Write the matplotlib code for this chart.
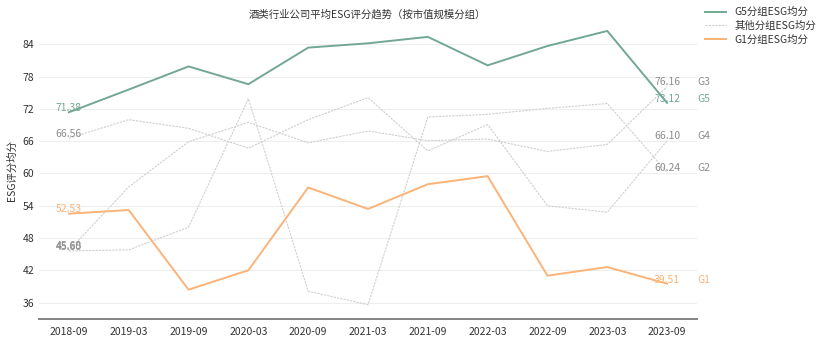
import matplotlib
matplotlib.use("Agg")
import matplotlib.pyplot as plt

plt.rcParams['font.family'] = ['Noto Sans CJK SC', 'DejaVu Sans']

# data
periods = ["2018-09", "2019-03", "2019-09", "2020-03", "2020-09", "2021-03",
           "2021-09", "2022-03", "2022-09", "2023-03", "2023-09"]
g5 = [71.38, 75.6, 79.9, 76.6, 83.4, 84.2, 85.4, 80.1, 83.7, 86.5, 73.12]
g1 = [52.53, 53.2, 38.4, 42.0, 57.4, 53.4, 58.0, 59.5, 41.0, 42.6, 39.51]
g2 = [45.60, 45.8, 50.0, 73.9, 38.1, 35.6, 70.5, 71.0, 72.1, 73.0, 60.24]
g3 = [45.68, 57.5, 65.9, 69.5, 65.7, 67.9, 66.1, 66.4, 64.1, 65.4, 76.16]
g4 = [66.56, 70.0, 68.4, 64.7, 70.0, 74.1, 64.2, 69.1, 54.0, 52.8, 66.10]

green = "#72a893"
orange = "#fbb377"
grey_line = "#cfcfcf"
grey_text = "#8c8c8c"

x = list(range(len(periods)))

fig = plt.figure(figsize=(8.21, 3.42), dpi=100)
ax = fig.add_axes([39 / 821, 23.3 / 342, (697 - 39) / 821, 0.865])

ax.plot(x, g5, color=green, lw=1.4, label="G5分组ESG均分", zorder=3)
others = [("G2", g2), ("G3", g3), ("G4", g4)]
for i, (name, vals) in enumerate(others):
    ax.plot(x, vals, color=grey_line, lw=0.8, linestyle=(0, (2, 1)),
            label="其他分组ESG均分" if i == 0 else None, zorder=2)
ax.plot(x, g1, color=orange, lw=1.4, label="G1分组ESG均分", zorder=3)

# start / end labels
series = [("G5", g5, green), ("G2", g2, grey_text), ("G3", g3, grey_text),
          ("G4", g4, grey_text), ("G1", g1, orange)]
for name, vals, c in series:
    ax.annotate(f"{vals[0]:.2f}", (x[0], vals[0]), xytext=(0, 3),
                textcoords="offset points", ha="center", va="center",
                fontsize=7.5, color=c, zorder=4)
    ax.annotate(f"{vals[-1]:.2f}", (x[-1], vals[-1]), xytext=(0, 3),
                textcoords="offset points", ha="center", va="center",
                fontsize=7.5, color=c, zorder=4, annotation_clip=False)
    ax.annotate(name, (x[-1] + 0.5, vals[-1]), xytext=(0, 3),
                textcoords="offset points", ha="left", va="center",
                fontsize=7.5, color=c, annotation_clip=False)

ax.set_xlim(-0.5, 10.5)
ax.set_ylim(33, 88)
ax.set_yticks([36, 42, 48, 54, 60, 66, 72, 78, 84])
ax.set_xticks(x)
ax.set_xticklabels(periods)
ax.tick_params(axis="both", length=0, labelsize=7.5, colors="#333333")
ax.tick_params(axis="x", pad=6)
ax.grid(axis="y", color="#eeeeee", lw=0.8)
ax.set_axisbelow(True)
for s in ["top", "right", "left"]:
    ax.spines[s].set_visible(False)
ax.spines["bottom"].set_color("#7a7a7a")
ax.spines["bottom"].set_linewidth(1.3)

ax.set_ylabel("ESG评分均分", fontsize=7.5, color="#333333", labelpad=4)
fig.text(367 / 821, 1 - 14 / 342, "酒类行业公司平均ESG评分趋势（按市值规模分组）",
         ha="center", va="center", fontsize=7.5, color="#333333")

fig.legend(loc="upper left", bbox_to_anchor=(705 / 821, 1 - 7 / 342),
           frameon=False, fontsize=7.5, borderpad=0, borderaxespad=0,
           handlelength=2.0, handletextpad=0.8, labelspacing=0.35,
           labelcolor="#333333")

plt.savefig("out.png", dpi=100)
